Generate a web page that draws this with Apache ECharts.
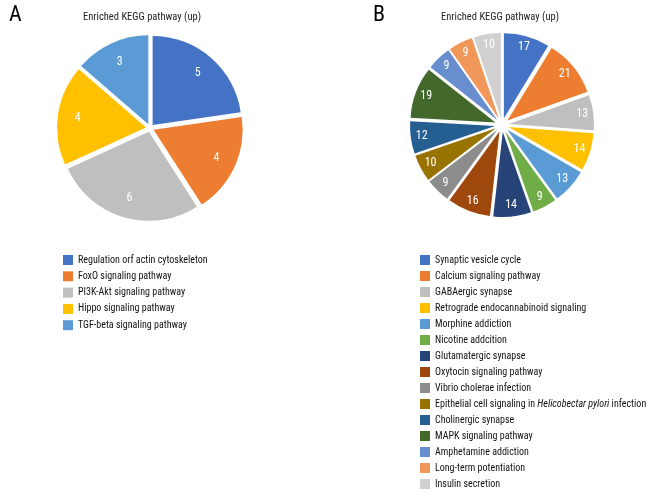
<!DOCTYPE html>
<html>
<head>
<meta charset="utf-8">
<script src="https://cdn.jsdelivr.net/npm/echarts@6/dist/echarts.min.js"></script>
<style>html,body{margin:0;padding:0;background:#fff}#c{width:672px;height:504px}</style>
</head>
<body>
<div id="c"></div>
<script>
const namesA = ["Regulation orf actin cytoskeleton","FoxO signaling pathway","PI3K-Akt signaling pathway","Hippo signaling pathway","TGF-beta signaling pathway"];
const valuesA = [5,4,6,4,3];
const colorsA = ["#4472C4","#ED7D31","#BFBFBF","#FFC000","#5B9BD5"];

const namesB = ["Synaptic vesicle cycle","Calcium signaling pathway","GABAergic synapse","Retrograde endocannabinoid signaling","Morphine addiction","Nicotine addcition","Glutamatergic synapse","Oxytocin signaling pathway","Vibrio cholerae infection","Epithelial cell signaling in Helicobectar pylori infection","Cholinergic synapse","MAPK signaling pathway","Amphetamine addiction","Long-term potentiation","Insulin secretion"];
const valuesB = [17,21,13,14,13,9,14,16,9,10,12,19,9,9,10];
const colorsB = ["#4472C4","#ED7D31","#BFBFBF","#FFC000","#5B9BD5","#70AD47","#264478","#9E480E","#8C8C8C","#997300","#255E91","#43682B","#698ED0","#F1975A","#D0D0D0"];

const FONT = "'Roboto Condensed','Liberation Sans Narrow',sans-serif";

function mk(names, vals, cols, sel) {
  return names.map((n,i)=>({name:n, value:vals[i], selected: sel, itemStyle:{color:cols[i]}}));
}
function mkLbl(names, vals) {
  return names.map((n,i)=>({name:n, value:vals[i], selected:true}));
}

const chart = echarts.init(document.getElementById('c'), null, {renderer:'canvas'});
const option = {
  animation:false,
  graphic:[
    {type:'text', left:9, top:4, style:{text:'A', font:"22px "+FONT, fill:'#000'}},
    {type:'text', left:373, top:4, style:{text:'B', font:"22px "+FONT, fill:'#000'}}
  ],
  title:[
    {text:'Enriched KEGG pathway (up)', left:142, top:12, padding:0, textAlign:'center', textStyle:{fontFamily:FONT, fontSize:10.5, fontWeight:'normal', color:'#222'}},
    {text:'Enriched KEGG pathway (up)', left:500, top:12, padding:0, textAlign:'center', textStyle:{fontFamily:FONT, fontSize:10.5, fontWeight:'normal', color:'#222'}}
  ],
  legend:[
    {orient:'vertical', left:63, top:254.5, padding:0, itemWidth:10, itemHeight:10, itemGap:5.3, icon:'rect', data:namesA, selectedMode:false,
     textStyle:{fontFamily:FONT, fontSize:10, lineHeight:11, color:'#111'}},
    {orient:'vertical', left:420, top:254.5, padding:0, itemWidth:10, itemHeight:10, itemGap:5.0, icon:'rect', data:namesB, selectedMode:false,
     formatter: function(n){ if(n.indexOf('Helicobectar')>=0){ return 'Epithelial cell signaling in {i|Helicobectar pylori} infection'; } return n; },
     textStyle:{fontFamily:FONT, fontSize:10, lineHeight:11, color:'#111', rich:{i:{fontStyle:'italic', fontFamily:FONT, fontSize:10, lineHeight:11, color:'#111'}}}}
  ],
  series:[
    {type:'pie', center:[150,128], radius:[0,89], startAngle:90, clockwise:true, selectedMode:'multiple', selectedOffset:4,
     silent:true, label:{show:false}, labelLine:{show:false}, data:mk(namesA, valuesA, colorsA, true)},
    {type:'pie', center:[150,128], radius:[43,89], startAngle:90, clockwise:true, selectedMode:'multiple', selectedOffset:4,
     silent:true, itemStyle:{color:'rgba(0,0,0,0)'}, label:{show:true, position:'inside', formatter:'{c}', color:'#fff', fontFamily:FONT, fontSize:12},
     labelLine:{show:false}, data:mkLbl(namesA, valuesA)},
    {type:'pie', center:[502,125], radius:[0,85], startAngle:90, clockwise:true, selectedMode:'multiple', selectedOffset:7,
     silent:true, label:{show:false}, labelLine:{show:false}, data:mk(namesB, valuesB, colorsB, true)},
    {type:'pie', center:[502,125], radius:[57,85], startAngle:90, clockwise:true, selectedMode:'multiple', selectedOffset:7,
     silent:true, itemStyle:{color:'rgba(0,0,0,0)'}, label:{show:true, position:'inside', formatter:'{c}', color:'#fff', fontFamily:FONT, fontSize:12},
     labelLine:{show:false}, data:mkLbl(namesB, valuesB)}
  ]
};
chart.setOption(option);
</script>
</body>
</html>
